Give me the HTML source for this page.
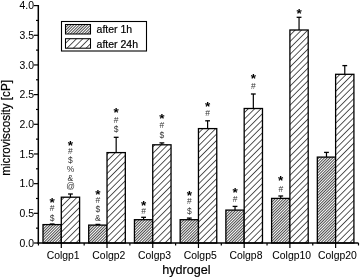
<!DOCTYPE html>
<html><head><meta charset="utf-8"><style>
html,body{margin:0;padding:0;background:#fff;}
svg{display:block;filter:blur(0.3px);}
text{font-family:"Liberation Sans",Arial,sans-serif;fill:#000;stroke:#000;stroke-width:0.2px;}
.tl{font-size:10.4px;stroke-width:0.05px;}
.at{font-size:12.6px;}
.lg{font-size:10.5px;}
.yl{font-size:12px;}
.an{font-size:8.5px;text-anchor:middle;stroke-width:0;fill:#333;}
.st{font-size:13.5px;font-weight:bold;text-anchor:middle;stroke-width:0;}
</style></head><body>
<svg width="360" height="277" viewBox="0 0 360 277">
<defs>
<pattern id="hd" patternUnits="userSpaceOnUse" width="1.98" height="1.98" patternTransform="rotate(45)"><rect width="1.98" height="1.98" fill="#fff"/><rect x="0" y="0" width="0.7" height="1.98" fill="#000"/></pattern>
<pattern id="hs" patternUnits="userSpaceOnUse" width="4.5" height="4.5" patternTransform="rotate(45)"><rect width="4.5" height="4.5" fill="#fff"/><rect x="0" y="0" width="0.65" height="4.5" fill="#000"/></pattern>
</defs>
<line x1="52.15" y1="224.6" x2="52.15" y2="224" stroke="#000" stroke-width="1.2"/>
<line x1="49.75" y1="224" x2="54.55" y2="224" stroke="#000" stroke-width="1.3"/>
<rect x="43" y="224.6" width="18.3" height="18.4" fill="url(#hd)" stroke="#000" stroke-width="1.3"/>
<line x1="70.45" y1="197.2" x2="70.45" y2="194" stroke="#000" stroke-width="1.2"/>
<line x1="68.05" y1="194" x2="72.85" y2="194" stroke="#000" stroke-width="1.3"/>
<rect x="61.3" y="197.2" width="18.3" height="45.8" fill="url(#hs)" stroke="#000" stroke-width="1.3"/>
<line x1="97.87" y1="225.1" x2="97.87" y2="224.4" stroke="#000" stroke-width="1.2"/>
<line x1="95.47" y1="224.4" x2="100.27" y2="224.4" stroke="#000" stroke-width="1.3"/>
<rect x="88.72" y="225.1" width="18.3" height="17.9" fill="url(#hd)" stroke="#000" stroke-width="1.3"/>
<line x1="116.17" y1="152.6" x2="116.17" y2="137.3" stroke="#000" stroke-width="1.2"/>
<line x1="113.77" y1="137.3" x2="118.57" y2="137.3" stroke="#000" stroke-width="1.3"/>
<rect x="107.02" y="152.6" width="18.3" height="90.4" fill="url(#hs)" stroke="#000" stroke-width="1.3"/>
<line x1="143.59" y1="219.7" x2="143.59" y2="217.3" stroke="#000" stroke-width="1.2"/>
<line x1="141.19" y1="217.3" x2="145.99" y2="217.3" stroke="#000" stroke-width="1.3"/>
<rect x="134.44" y="219.7" width="18.3" height="23.3" fill="url(#hd)" stroke="#000" stroke-width="1.3"/>
<line x1="161.89" y1="144.8" x2="161.89" y2="142.9" stroke="#000" stroke-width="1.2"/>
<line x1="159.49" y1="142.9" x2="164.29" y2="142.9" stroke="#000" stroke-width="1.3"/>
<rect x="152.74" y="144.8" width="18.3" height="98.2" fill="url(#hs)" stroke="#000" stroke-width="1.3"/>
<line x1="189.31" y1="219.7" x2="189.31" y2="218.1" stroke="#000" stroke-width="1.2"/>
<line x1="186.91" y1="218.1" x2="191.71" y2="218.1" stroke="#000" stroke-width="1.3"/>
<rect x="180.16" y="219.7" width="18.3" height="23.3" fill="url(#hd)" stroke="#000" stroke-width="1.3"/>
<line x1="207.61" y1="128.6" x2="207.61" y2="120.8" stroke="#000" stroke-width="1.2"/>
<line x1="205.21" y1="120.8" x2="210.01" y2="120.8" stroke="#000" stroke-width="1.3"/>
<rect x="198.46" y="128.6" width="18.3" height="114.4" fill="url(#hs)" stroke="#000" stroke-width="1.3"/>
<line x1="235.03" y1="210.1" x2="235.03" y2="206.4" stroke="#000" stroke-width="1.2"/>
<line x1="232.63" y1="206.4" x2="237.43" y2="206.4" stroke="#000" stroke-width="1.3"/>
<rect x="225.88" y="210.1" width="18.3" height="32.9" fill="url(#hd)" stroke="#000" stroke-width="1.3"/>
<line x1="253.33" y1="108.5" x2="253.33" y2="94" stroke="#000" stroke-width="1.2"/>
<line x1="250.93" y1="94" x2="255.73" y2="94" stroke="#000" stroke-width="1.3"/>
<rect x="244.18" y="108.5" width="18.3" height="134.5" fill="url(#hs)" stroke="#000" stroke-width="1.3"/>
<line x1="280.75" y1="198.4" x2="280.75" y2="196" stroke="#000" stroke-width="1.2"/>
<line x1="278.35" y1="196" x2="283.15" y2="196" stroke="#000" stroke-width="1.3"/>
<rect x="271.6" y="198.4" width="18.3" height="44.6" fill="url(#hd)" stroke="#000" stroke-width="1.3"/>
<line x1="299.05" y1="30" x2="299.05" y2="17.3" stroke="#000" stroke-width="1.2"/>
<line x1="296.65" y1="17.3" x2="301.45" y2="17.3" stroke="#000" stroke-width="1.3"/>
<rect x="289.9" y="30" width="18.3" height="213" fill="url(#hs)" stroke="#000" stroke-width="1.3"/>
<line x1="326.47" y1="157.1" x2="326.47" y2="152.4" stroke="#000" stroke-width="1.2"/>
<line x1="324.07" y1="152.4" x2="328.87" y2="152.4" stroke="#000" stroke-width="1.3"/>
<rect x="317.32" y="157.1" width="18.3" height="85.9" fill="url(#hd)" stroke="#000" stroke-width="1.3"/>
<line x1="344.77" y1="74.3" x2="344.77" y2="65.6" stroke="#000" stroke-width="1.2"/>
<line x1="342.37" y1="65.6" x2="347.17" y2="65.6" stroke="#000" stroke-width="1.3"/>
<rect x="335.62" y="74.3" width="18.3" height="168.7" fill="url(#hs)" stroke="#000" stroke-width="1.3"/>
<text x="52.15" y="206.65" class="st">*</text>
<text x="52.15" y="211.2" class="an">#</text>
<text x="52.15" y="220.95" class="an">$</text>
<text x="70.45" y="149.7" class="st">*</text>
<text x="70.45" y="154" class="an">#</text>
<text x="70.45" y="163.2" class="an">$</text>
<text x="70.45" y="171.9" class="an">%</text>
<text x="70.45" y="181.15" class="an">&amp;</text>
<text x="70.45" y="189.15" class="an">@</text>
<text x="97.87" y="198.5" class="st">*</text>
<text x="97.87" y="202.7" class="an">#</text>
<text x="97.87" y="212" class="an">$</text>
<text x="97.87" y="221.1" class="an">&amp;</text>
<text x="116.17" y="116.65" class="st">*</text>
<text x="116.17" y="122.8" class="an">#</text>
<text x="116.17" y="131.8" class="an">$</text>
<text x="143.59" y="210.15" class="st">*</text>
<text x="143.59" y="214.3" class="an">#</text>
<text x="161.89" y="122.5" class="st">*</text>
<text x="161.89" y="127.55" class="an">#</text>
<text x="161.89" y="137.65" class="an">$</text>
<text x="189.31" y="199.6" class="st">*</text>
<text x="189.31" y="204.05" class="an">#</text>
<text x="189.31" y="214.2" class="an">$</text>
<text x="207.61" y="110.7" class="st">*</text>
<text x="207.61" y="116.1" class="an">#</text>
<text x="235.03" y="196.85" class="st">*</text>
<text x="235.03" y="201.9" class="an">#</text>
<text x="253.33" y="83.35" class="st">*</text>
<text x="253.33" y="89.1" class="an">#</text>
<text x="280.75" y="185.45" class="st">*</text>
<text x="280.75" y="191.7" class="an">#</text>
<text x="299.05" y="18.05" class="st">*</text>
<line x1="38.3" y1="5.0" x2="38.3" y2="243.75" stroke="#000" stroke-width="1.5"/>
<line x1="37.55" y1="243" x2="358.5" y2="243" stroke="#000" stroke-width="1.5"/>
<line x1="33.8" y1="243" x2="38.3" y2="243" stroke="#000" stroke-width="1.2"/>
<text x="34" y="246.7" class="tl" text-anchor="end">0.0</text>
<line x1="36" y1="228.16" x2="38.3" y2="228.16" stroke="#000" stroke-width="1.2"/>
<line x1="33.8" y1="213.32" x2="38.3" y2="213.32" stroke="#000" stroke-width="1.2"/>
<text x="34" y="217.02" class="tl" text-anchor="end">0.5</text>
<line x1="36" y1="198.49" x2="38.3" y2="198.49" stroke="#000" stroke-width="1.2"/>
<line x1="33.8" y1="183.65" x2="38.3" y2="183.65" stroke="#000" stroke-width="1.2"/>
<text x="34" y="187.35" class="tl" text-anchor="end">1.0</text>
<line x1="36" y1="168.81" x2="38.3" y2="168.81" stroke="#000" stroke-width="1.2"/>
<line x1="33.8" y1="153.97" x2="38.3" y2="153.97" stroke="#000" stroke-width="1.2"/>
<text x="34" y="157.67" class="tl" text-anchor="end">1.5</text>
<line x1="36" y1="139.14" x2="38.3" y2="139.14" stroke="#000" stroke-width="1.2"/>
<line x1="33.8" y1="124.3" x2="38.3" y2="124.3" stroke="#000" stroke-width="1.2"/>
<text x="34" y="128" class="tl" text-anchor="end">2.0</text>
<line x1="36" y1="109.46" x2="38.3" y2="109.46" stroke="#000" stroke-width="1.2"/>
<line x1="33.8" y1="94.62" x2="38.3" y2="94.62" stroke="#000" stroke-width="1.2"/>
<text x="34" y="98.33" class="tl" text-anchor="end">2.5</text>
<line x1="36" y1="79.79" x2="38.3" y2="79.79" stroke="#000" stroke-width="1.2"/>
<line x1="33.8" y1="64.95" x2="38.3" y2="64.95" stroke="#000" stroke-width="1.2"/>
<text x="34" y="68.65" class="tl" text-anchor="end">3.0</text>
<line x1="36" y1="50.11" x2="38.3" y2="50.11" stroke="#000" stroke-width="1.2"/>
<line x1="33.8" y1="35.28" x2="38.3" y2="35.28" stroke="#000" stroke-width="1.2"/>
<text x="34" y="38.98" class="tl" text-anchor="end">3.5</text>
<line x1="36" y1="20.44" x2="38.3" y2="20.44" stroke="#000" stroke-width="1.2"/>
<line x1="33.8" y1="5.6" x2="38.3" y2="5.6" stroke="#000" stroke-width="1.2"/>
<text x="34" y="9.3" class="tl" text-anchor="end">4.0</text>
<line x1="61.3" y1="243" x2="61.3" y2="248" stroke="#000" stroke-width="1.2"/>
<text x="63.1" y="259.4" class="tl" text-anchor="middle">Colgp1</text>
<line x1="107.02" y1="243" x2="107.02" y2="248" stroke="#000" stroke-width="1.2"/>
<text x="108.82" y="259.4" class="tl" text-anchor="middle">Colgp2</text>
<line x1="152.74" y1="243" x2="152.74" y2="248" stroke="#000" stroke-width="1.2"/>
<text x="154.54" y="259.4" class="tl" text-anchor="middle">Colgp3</text>
<line x1="198.46" y1="243" x2="198.46" y2="248" stroke="#000" stroke-width="1.2"/>
<text x="200.26" y="259.4" class="tl" text-anchor="middle">Colgp5</text>
<line x1="244.18" y1="243" x2="244.18" y2="248" stroke="#000" stroke-width="1.2"/>
<text x="245.98" y="259.4" class="tl" text-anchor="middle">Colgp8</text>
<line x1="289.9" y1="243" x2="289.9" y2="248" stroke="#000" stroke-width="1.2"/>
<text x="291.7" y="259.4" class="tl" text-anchor="middle">Colgp10</text>
<line x1="335.62" y1="243" x2="335.62" y2="248" stroke="#000" stroke-width="1.2"/>
<text x="337.42" y="259.4" class="tl" text-anchor="middle">Colgp20</text>
<line x1="38.44" y1="243" x2="38.44" y2="245.5" stroke="#000" stroke-width="1.2"/>
<line x1="84.16" y1="243" x2="84.16" y2="245.5" stroke="#000" stroke-width="1.2"/>
<line x1="129.88" y1="243" x2="129.88" y2="245.5" stroke="#000" stroke-width="1.2"/>
<line x1="175.6" y1="243" x2="175.6" y2="245.5" stroke="#000" stroke-width="1.2"/>
<line x1="221.32" y1="243" x2="221.32" y2="245.5" stroke="#000" stroke-width="1.2"/>
<line x1="267.04" y1="243" x2="267.04" y2="245.5" stroke="#000" stroke-width="1.2"/>
<line x1="312.76" y1="243" x2="312.76" y2="245.5" stroke="#000" stroke-width="1.2"/>
<line x1="358.48" y1="243" x2="358.48" y2="245.5" stroke="#000" stroke-width="1.2"/>
<text x="186.3" y="274.3" class="at" text-anchor="middle">hydrogel</text>
<text transform="translate(9.8,127.9) rotate(-90)" x="0" y="0" class="yl" text-anchor="middle" textLength="95.6" lengthAdjust="spacingAndGlyphs">microviscosity [cP]</text>
<rect x="61.5" y="21.5" width="85" height="29.5" fill="#fff" stroke="#000" stroke-width="1.1"/>
<rect x="65.5" y="24.5" width="25" height="9.5" fill="url(#hd)" stroke="#000" stroke-width="1.05"/>
<rect x="65.5" y="38.7" width="25" height="9.5" fill="url(#hs)" stroke="#000" stroke-width="1.05"/>
<text x="96.6" y="33.4" class="lg">after 1h</text>
<text x="96.6" y="48.3" class="lg">after 24h</text>
</svg>
</body></html>
